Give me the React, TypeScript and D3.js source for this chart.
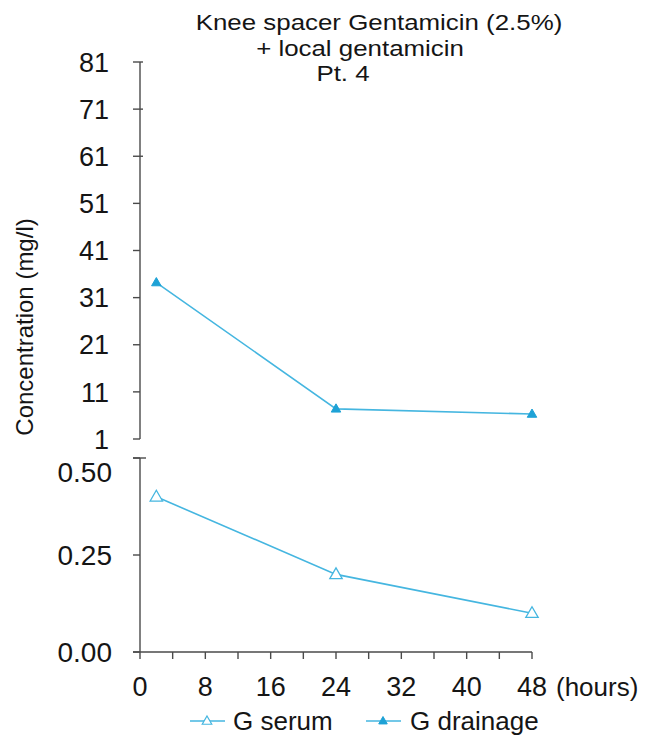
import React from "react";
import * as d3 from "d3";

// hours after surgery
const hours = [2, 24, 48];
// gentamicin in drainage fluid (mg/l)
const drainage = [34.2, 7.4, 6.3];
// gentamicin in serum (mg/l)
const serum = [0.4, 0.2, 0.1];

const upperTicks = [1, 11, 21, 31, 41, 51, 61, 71, 81];
const lowerTicks = [0, 0.25, 0.5];
const xTicks = [0, 8, 16, 24, 32, 40, 48];
const xMinorTicks = [4, 12, 20, 28, 36, 44];

const titleLines = ["Knee spacer Gentamicin (2.5%)", "+ local gentamicin", "Pt. 4"];
const seriesNames = ["G serum", "G drainage"];

const LINE = "#45b6e0";
const MARK = "#1ea2d6";
const AXIS = "#4a4a4a";
const INK = "#151515";
const FONT = "'Liberation Sans', Arial, Helvetica, sans-serif";

const App = () => {
  const W = 647;
  const H = 739;

  const x = d3.scaleLinear().domain([0, 48]).range([140, 532]);
  const yUp = d3.scaleLinear().domain([1, 81]).range([439, 62]);
  const yLow = d3.scaleLinear().domain([0, 0.5]).range([652, 458]);

  const drainPts: [number, number][] = hours.map((h, i) => [x(h), yUp(drainage[i])]);
  const serumPts: [number, number][] = hours.map((h, i) => [x(h), yLow(serum[i])]);
  const line = d3.line();

  const tri = (cx: number, cy: number, s: number) =>
    `M${cx},${cy - s} L${cx + s * 0.95},${cy + s * 0.65} L${cx - s * 0.95},${cy + s * 0.65} Z`;

  return (
    <svg
      width={W}
      height={H}
      style={{ position: "absolute", left: 0, top: 0, background: "#fff" }}
      fontFamily={FONT}
    >
      {/* title: a little wider than tall, as in the source */}
      {titleLines.map((t, i) => (
        <text
          key={t}
          transform={`translate(${[379, 360, 343][i]},${30 + i * 25.5}) scale(1.15,1)`}
          fontSize={22.5}
          textAnchor="middle"
          fill={INK}
        >
          {t}
        </text>
      ))}

      {/* y label */}
      <text transform="translate(33,327) rotate(-90)" textAnchor="middle" fontSize={24} fill={INK}>
        Concentration (mg/l)
      </text>

      {/* upper axis */}
      <line x1={x(0)} x2={x(0)} y1={yUp(81)} y2={yUp(1)} stroke={AXIS} strokeWidth={1.4} />
      {upperTicks.map((t) => (
        <g key={t}>
          <line x1={x(0) - 7} x2={x(0) + (t >= 61 ? 3 : 0)} y1={yUp(t)} y2={yUp(t)} stroke={AXIS} strokeWidth={1.4} />
          <text x={109} y={yUp(t)} dy="0.36em" textAnchor="end" fontSize={27} fill={INK}>
            {t}
          </text>
        </g>
      ))}

      {/* lower axis */}
      <line x1={x(0)} x2={x(0)} y1={yLow(0.5)} y2={yLow(0)} stroke={AXIS} strokeWidth={1.4} />
      <line x1={x(0) - 7} x2={x(0) + 6} y1={yLow(0.5)} y2={yLow(0.5)} stroke={AXIS} strokeWidth={1.4} />
      {lowerTicks.map((t) => (
        <g key={t}>
          <line x1={x(0) - 7} x2={x(0)} y1={yLow(t)} y2={yLow(t)} stroke={AXIS} strokeWidth={1.4} />
          <text x={112} y={yLow(t) + (t === 0.5 ? 14 : 0)} dy="0.36em" textAnchor="end" fontSize={28} fill={INK}>
            {d3.format(".2f")(t)}
          </text>
        </g>
      ))}

      {/* x axis */}
      <line x1={x(0) - 7} x2={x(48)} y1={yLow(0)} y2={yLow(0)} stroke={AXIS} strokeWidth={1.4} />
      {[...xTicks, ...xMinorTicks].map((t) => (
        <line key={t} x1={x(t)} x2={x(t)} y1={yLow(0)} y2={yLow(0) + 7} stroke={AXIS} strokeWidth={1.4} />
      ))}
      {xTicks.map((t) => (
        <text key={t} x={x(t)} y={696} textAnchor="middle" fontSize={27} fill={INK}>
          {t}
        </text>
      ))}
      <text x={x(48) + 24} y={696} fontSize={26} fill={INK}>
        (hours)
      </text>

      {/* series */}
      <path d={line(drainPts) ?? ""} fill="none" stroke={LINE} strokeWidth={1.6} />
      {drainPts.map(([px, py], i) => (
        <path key={i} d={tri(px, py, 5)} fill={MARK} stroke={MARK} strokeWidth={1} />
      ))}
      <path d={line(serumPts) ?? ""} fill="none" stroke={LINE} strokeWidth={1.6} />
      {serumPts.map(([px, py], i) => (
        <path key={i} d={tri(px, py, 6.5)} fill="#fff" stroke={LINE} strokeWidth={1.3} />
      ))}

      {/* legend */}
      <line x1={190} x2={225} y1={721} y2={721} stroke={LINE} strokeWidth={1.6} />
      <path d={tri(207, 721, 5)} fill="#fff" stroke={LINE} strokeWidth={1.2} />
      <text x={233} y={730} fontSize={26} fill={INK}>
        {seriesNames[0]}
      </text>
      <line x1={366} x2={401} y1={721} y2={721} stroke={LINE} strokeWidth={1.6} />
      <path d={tri(383, 721, 4.5)} fill={MARK} stroke={MARK} strokeWidth={1} />
      <text x={410} y={730} fontSize={26} fill={INK}>
        {seriesNames[1]}
      </text>
    </svg>
  );
};

export default App;
